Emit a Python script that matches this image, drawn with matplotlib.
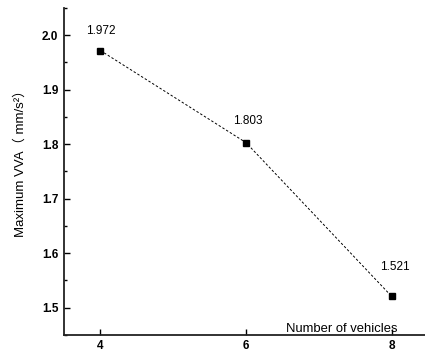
import numpy as np
import matplotlib.pyplot as plt
from matplotlib.ticker import MultipleLocator

plt.rcParams['font.family'] = ['Liberation Sans', 'Noto Sans CJK SC', 'DejaVu Sans']

vehicles = [4, 6, 8]
max_vva = [1.972, 1.803, 1.521]
labels = ['1.972', '1.803', '1.521']

fig = plt.figure(figsize=(4.25, 3.51), dpi=100)
ax = fig.add_axes([64 / 425, 16 / 351, 364 / 425, 327 / 351])

ax.plot(vehicles, max_vva, color='black', linestyle=(0, (2.5, 2)), linewidth=0.7,
        marker='s', markersize=4.5)

offsets = [(0, 10), (1, 11.5), (2, 17)]
for x, y, t, off in zip(vehicles, max_vva, labels, offsets):
    ax.annotate(t, (x, y), xytext=off, textcoords='offset points',
                ha='center', va='bottom', fontsize=8.5)

ax.set_xlim(3.5, 8.5)
ax.set_ylim(1.45, 2.05)
ax.xaxis.set_major_locator(MultipleLocator(2))
ax.yaxis.set_major_locator(MultipleLocator(0.1))
ax.yaxis.set_minor_locator(MultipleLocator(0.05))
ax.yaxis.set_major_formatter(plt.FormatStrFormatter('%.1f'))

for side in ['top', 'right']:
    ax.spines[side].set_visible(False)
for side in ['left', 'bottom']:
    ax.spines[side].set_linewidth(1.3)
    ax.spines[side].set_color('#222222')

ax.tick_params(direction='in', width=1, length=4, labelsize=8.5)
ax.tick_params(axis='x', pad=3.5)
ax.tick_params(axis='y', pad=4)
ax.tick_params(which='minor', direction='in', width=1, length=2.5)
for lab in ax.get_xticklabels() + ax.get_yticklabels():
    lab.set_fontweight('bold')

ax.text(0.762, 0.0092, 'Number of vehicles', transform=ax.transAxes,
        ha='center', va='baseline', fontsize=9.4)
fig.text(20 / 425, 1 - 160 / 351, 'Maximum VVA（ mm/s²）', rotation=90,
         ha='center', va='center', fontsize=9.5)

fig.savefig('out.png', dpi=100)
